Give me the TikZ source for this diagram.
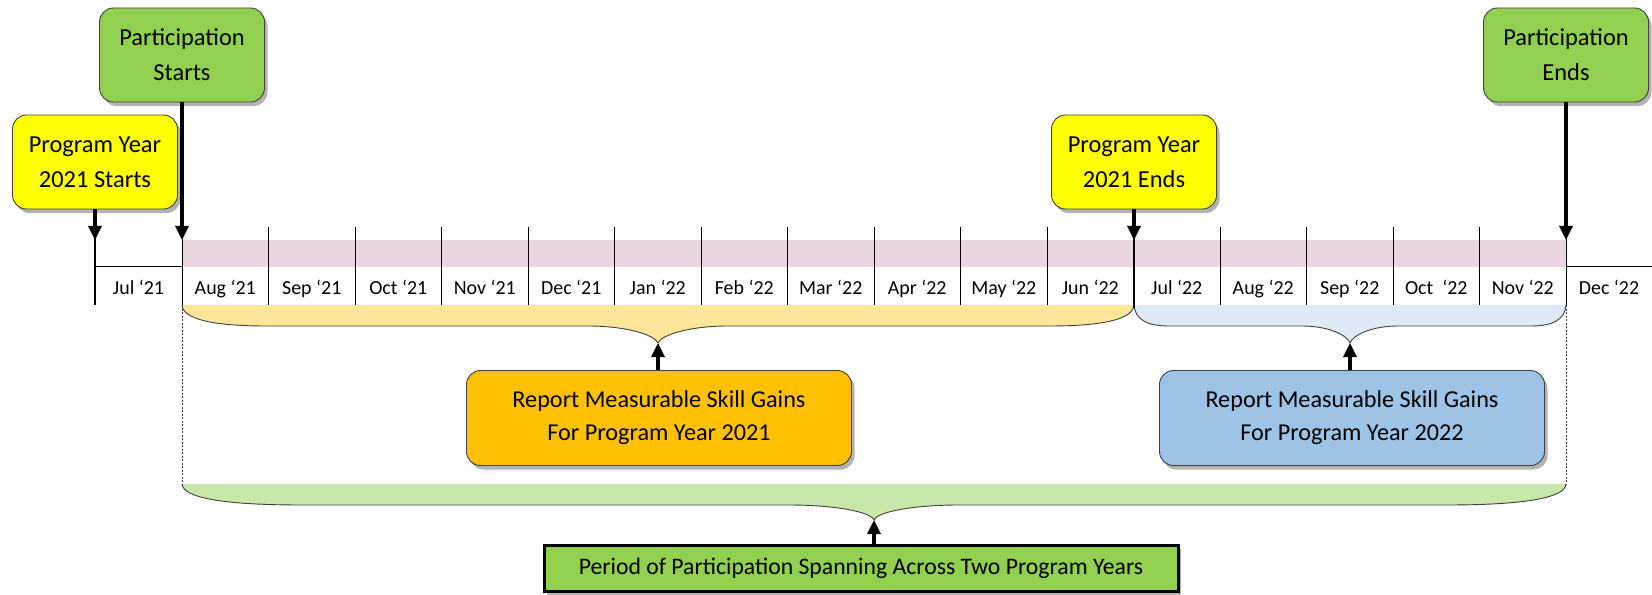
\documentclass[tikz,border=0pt]{standalone}
\usepackage{fontspec}
\setmainfont{Carlito}
\usetikzlibrary{arrows.meta,shadows}
\definecolor{pinkband}{HTML}{E8D5DF}
\definecolor{ybrace}{HTML}{FFE699}
\definecolor{bbrace}{HTML}{DEEBF7}
\definecolor{gbrace}{HTML}{C9E7A9}
\definecolor{boxgreen}{HTML}{92D050}
\definecolor{boxyellow}{HTML}{FFFF00}
\definecolor{boxorange}{HTML}{FFC000}
\definecolor{boxblue}{HTML}{9DC3E6}
\definecolor{edgegray}{HTML}{404040}
\newcommand\mybrace[9]{% #1 x1, #2 x2, #3 top, #4 flat, #5 tip, #6 end r, #7 centre r, #8 colour, #9 tip name
  \pgfmathsetmacro\bxc{(#1+#2)/2}
  \fill[#8] (#1,#3) .. controls (#1+1,#4-7) and (#1+0.35*#6,#4) .. (#1+#6,#4)
    -- (\bxc-#7,#4) .. controls (\bxc-0.45*#7,#4) and (\bxc-3,#5-8) .. (\bxc,#5)
    .. controls (\bxc+3,#5-8) and (\bxc+0.45*#7,#4) .. (\bxc+#7,#4)
    -- (#2-#6,#4) .. controls (#2-0.35*#6,#4) and (#2-1,#4-7) .. (#2,#3) -- cycle;
  \draw[braceline] (#1,#3) .. controls (#1+1,#4-7) and (#1+0.35*#6,#4) .. (#1+#6,#4)
    -- (\bxc-#7,#4) .. controls (\bxc-0.45*#7,#4) and (\bxc-3,#5-8) .. (\bxc,#5)
    .. controls (\bxc+3,#5-8) and (\bxc+0.45*#7,#4) .. (\bxc+#7,#4)
    -- (#2-#6,#4) .. controls (#2-0.35*#6,#4) and (#2-1,#4-7) .. (#2,#3);
  \coordinate (#9) at (\bxc,#5);
}
\begin{document}
\begin{tikzpicture}[x=1bp,y=-1bp,
  softshadow/.style={drop shadow={shadow xshift=3bp,shadow yshift=-4bp,fill=black,opacity=0.3}},
  tlbox/.style={draw=edgegray,line width=0.9bp,rounded corners=14bp,minimum width=165bp,
    minimum height=94bp,align=center,font=\fontsize{24.5}{35}\selectfont,softshadow},
  repbox/.style={draw=edgegray,line width=0.9bp,rounded corners=14bp,minimum width=385bp,
    minimum height=95bp,align=center,font=\fontsize{24.3}{33}\selectfont,softshadow},
  botbox/.style={draw=black,line width=3bp,minimum width=634bp,minimum height=46bp,
    align=center,font=\fontsize{23.8}{28}\selectfont,softshadow},
  arr/.style={line width=3.2bp,-{Triangle[width=13bp,length=14bp]}},
  divider/.style={line width=0.9bp},
  thickline/.style={line width=2.8bp},
  braceline/.style={draw=edgegray,line width=0.9bp},
  dashline/.style={line width=0.7bp,dash pattern=on 2bp off 1.5bp,draw=edgegray},
  month/.style={anchor=base,font=\fontsize{20}{24}\selectfont,inner sep=0pt}
]
\useasboundingbox (0,0) rectangle (1652,595);

% timeline band
\fill[pinkband] (182,240) rectangle (1566,267);
\foreach \i in {1,...,10,12,13,14,15}
  \draw[divider] (182+86.5*\i,227) -- (182+86.5*\i,305);
\draw[divider] (95,266) -- (182,266);
\draw[divider] (1566,266) -- (1652,266);

% braces
\mybrace{182}{1134}{305}{326}{343}{85}{70}{ybrace}{ytip}
\mybrace{1134}{1566}{305}{326}{343}{35}{48}{bbrace}{btip}
\mybrace{182}{1566}{484}{505}{520}{120}{85}{gbrace}{gtip}
\draw[dashline] (182,305) -- (182,484);
\draw[dashline] (1566,305) -- (1566,484);

% month labels
\node[month] (mjul21) at (138.5,294) {Jul ‘21};
\foreach \m [count=\i from 0] in {Aug ‘21,Sep ‘21,Oct ‘21,Nov ‘21,Dec ‘21,Jan ‘22,Feb ‘22,Mar ‘22,Apr ‘22,May ‘22,Jun ‘22,Jul ‘22,Aug ‘22,Sep ‘22,Oct\ \ ‘22,Nov ‘22}
  \node[month] (m\i) at (182+86.5*\i+43.25,294) {\m};
\node[month] (mdec22) at (1609,294) {Dec ‘22};

% top boxes
\node[tlbox,fill=boxgreen] (ps) at (182,55) {Participation\\Starts};
\node[tlbox,fill=boxyellow] (pys) at (95,162) {Program Year\\2021 Starts};
\node[tlbox,fill=boxyellow] (pye) at (1134,162) {Program Year\\2021 Ends};
\node[tlbox,fill=boxgreen] (pe) at (1566,55) {Participation\\Ends};

\coordinate (tJul21) at (95,240);
\coordinate (tAug21) at (182,240);
\coordinate (tJul22) at (1134,240);
\coordinate (tDec22) at (1566,240);
\draw[thickline] (95,232) -- (95,305);
\draw[divider] (182,232) -- (182,305);
\draw[thickline] (1134,232) -- (1134,308);
\draw[divider] (1566,232) -- (1566,305);
\draw[arr] (pys.south) -- (tJul21);
\draw[arr] (ps.south) -- (tAug21);
\draw[arr] (pye.south) -- (tJul22);
\draw[arr] (pe.south) -- (tDec22);

% report boxes
\node[repbox,fill=boxorange] (r21) at (659,418) {Report Measurable Skill Gains\\For Program Year 2021};
\node[repbox,fill=boxblue] (r22) at (1352,418) {Report Measurable Skill Gains\\For Program Year 2022};
\draw[arr] (r21.north -| ytip) -- (ytip);
\draw[arr] (r22.north -| btip) -- (btip);

% bottom box
\node[botbox,fill=boxgreen] (pp) at (861,568) {Period of Participation Spanning Across Two Program Years};
\draw[arr] (pp.north -| gtip) -- (gtip);
\end{tikzpicture}
\end{document}
